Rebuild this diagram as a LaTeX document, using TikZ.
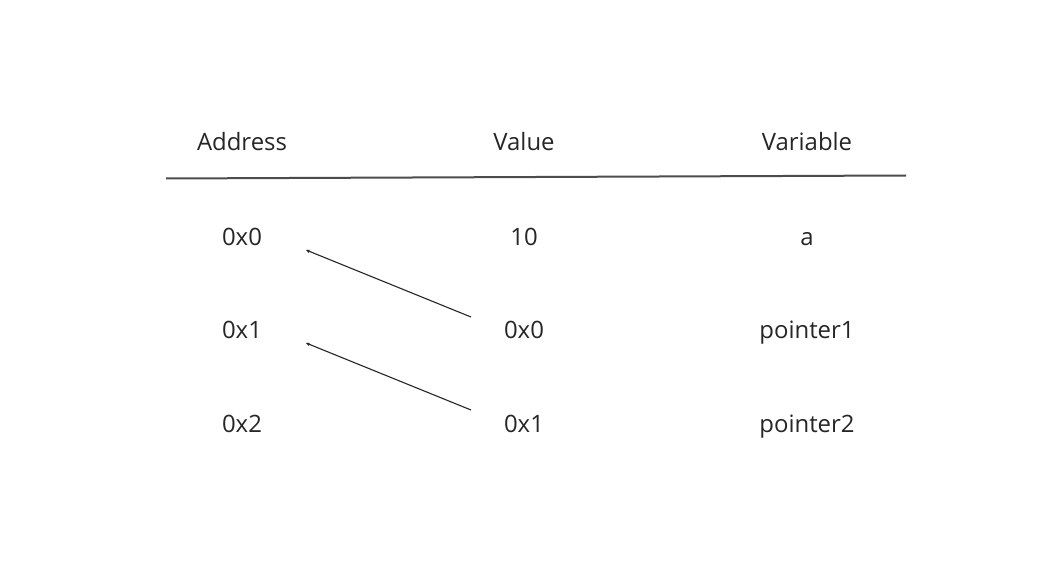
\documentclass[tikz,border=0pt]{standalone}
\usepackage{fontspec}
\setmainfont{Open Sans}
\usetikzlibrary{arrows.meta}
\begin{document}
\begin{tikzpicture}[x=1bp,y=-1bp,
  txt/.style={inner sep=0pt,anchor=base,font=\fontsize{24}{28}\selectfont,text=black!85},
  ptr/.style={line width=1.1bp,black!85,-{Stealth[length=4bp,width=3.5bp]}}]
\useasboundingbox[fill=white] (0,0) rectangle (1044,571);
\node[txt] (hA) at (242,150.7) {Address};
\node[txt] (hV) at (524,150.7) {Value};
\node[txt] (hN) at (807,150.7) {Variable};
\coordinate (l1) at (166,178.5);
\coordinate (l2) at (906,175.5);
\draw[line width=2bp,black!70] (l1) -- (l2);
\node[txt] (a0) at (242,245.7) {0x0};
\node[txt] (v0) at (524,245.7) {10};
\node[txt] (n0) at (807,245.7) {a};
\node[txt] (a1) at (242,338.8) {0x1};
\node[txt] (v1) at (524,338.8) {0x0};
\node[txt] (n1) at (807,338.8) {pointer1};
\node[txt] (a2) at (242,432.5) {0x2};
\node[txt] (v2) at (524,432.5) {0x1};
\node[txt] (n2) at (807,432.5) {pointer2};
\coordinate (s1) at (471,317);
\coordinate (e1) at (306,250);
\coordinate (s2) at (471,410);
\coordinate (e2) at (306,343);
\draw[ptr] (s1) -- (e1);
\draw[ptr] (s2) -- (e2);
\end{tikzpicture}
\end{document}
